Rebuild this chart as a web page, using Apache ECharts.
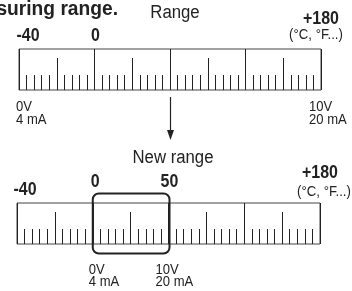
<!DOCTYPE html>
<html>
<head>
<meta charset="utf-8">
<title>Measuring range</title>
<script src="https://cdn.jsdelivr.net/npm/echarts@6/dist/echarts.min.js"></script>
<style>
  html, body { margin: 0; padding: 0; background: #fff; }
  #main { width: 352px; height: 291px; }
</style>
</head>
<body>
<div id="main"></div>
<script>
// ruler is split into 40 small divisions
var rulerMin = 0, rulerMax = 40;
var majorStep = 10, midStep = 5, minorSplit = 5;

// scale labels (position on ruler -> printed value)
var rangePos = [0, 10, 40];
var rangeText = ['-40', '0', '+180'];
var newRangePos = [0, 10, 20, 40];
var newRangeText = ['-40', '0', '50', '+180'];
var unitText = '(°C, °F...)';

// signal labels
var signalText = [['0V', '4 mA'], ['10V', '20 mA']];
var rangeSignalPos = [0, 40];
var newSignalPos = [10, 20];
var windowPos = [10, 20];
var arrowPos = 20;

var sans = "'Liberation Sans', sans-serif";
var ink = '#222';

function rulerAxes(g) {
    return [{
        type: 'value', gridIndex: g, min: rulerMin, max: rulerMax, interval: majorStep,
        axisLine: {show: false}, axisTick: {show: false}, axisLabel: {show: false},
        splitLine: {show: true, lineStyle: {color: ink, width: 1}}
    }, {
        type: 'value', gridIndex: g, min: rulerMin, max: rulerMax, interval: midStep,
        position: 'bottom',
        axisLine: {show: false}, axisLabel: {show: false}, splitLine: {show: false},
        axisTick: {show: true, inside: true, length: 32, lineStyle: {color: ink, width: 1}},
        minorTick: {show: true, splitNumber: minorSplit, length: 15, lineStyle: {color: ink, width: 1}}
    }];
}

var chart = echarts.init(document.getElementById('main'));
chart.setOption({
    animation: false,
    grid: [
        {left: 19, top: 49, width: 302, height: 41, show: true, borderColor: '#444', borderWidth: 1},
        {left: 17, top: 203, width: 303, height: 41, show: true, borderColor: '#444', borderWidth: 1}
    ],
    xAxis: rulerAxes(0).concat(rulerAxes(1)),
    yAxis: [
        {type: 'value', gridIndex: 0, min: 0, max: 1, show: false},
        {type: 'value', gridIndex: 1, min: 0, max: 1, show: false}
    ],
    series: []
});

function px(axis, v) { return chart.convertToPixel({xAxisIndex: axis}, v); }

var g = [];
// sx squeezes the glyphs horizontally to mimic the condensed face of the original
function txt(text, x, y, size, weight, align, sx) {
    g.push({type: 'text', x: x, y: y, scaleX: sx || 1,
        style: {text: text, x: 0, y: 0,
            fontSize: size, fontWeight: weight, fontFamily: sans, fill: ink,
            align: align || 'center', verticalAlign: 'middle'}});
}

// headings
txt('Measuring range.', 118, 9, 20, 'bold', 'right', 0.96);
txt('Range', 175, 13.5, 18, 'normal', 'center', 0.93);
txt('New range', 173, 158.5, 18, 'normal', 'center', 0.93);

// first ruler labels
var rangeY = [36, 36, 19];
var rangeDx = [9, 1, 0];
rangePos.forEach(function (v, i) {
    txt(rangeText[i], px(0, v) + rangeDx[i], rangeY[i], 19, 'bold', 'center', 0.84);
});
txt(unitText, px(0, rulerMax) - 5, 35, 15, 'normal', 'center', 0.88);

// second ruler labels
var newY = [190, 182, 182, 173];
var newDx = [8, 2.5, 1, 0];
newRangePos.forEach(function (v, i) {
    txt(newRangeText[i], px(2, v) + newDx[i], newY[i], 19, 'bold', 'center', 0.84);
});
txt(unitText, px(2, rulerMax) + 4, 192, 15, 'normal', 'center', 0.88);

// signal labels under rulers
var sigDx = [-3, -12];
rangeSignalPos.forEach(function (v, i) {
    txt(signalText[i][0], px(0, v) + sigDx[i], 107, 15, 'normal', 'left', 0.87);
    txt(signalText[i][1], px(0, v) + sigDx[i], 120, 15, 'normal', 'left', 0.87);
});
newSignalPos.forEach(function (v, i) {
    txt(signalText[i][0], px(2, v) + sigDx[i] - 1, 270, 15, 'normal', 'left', 0.87);
    txt(signalText[i][1], px(2, v) + sigDx[i] - 1, 282, 15, 'normal', 'left', 0.87);
});

// arrow between the two rulers
var ax = Math.round(px(0, arrowPos)) + 0.5;
g.push({type: 'line', shape: {x1: ax, y1: 97, x2: ax, y2: 134}, style: {stroke: ink, lineWidth: 1.2}});
g.push({type: 'polygon', shape: {points: [[ax - 3.5, 130], [ax + 3.5, 130], [ax, 140]]}, style: {fill: ink}});

// highlighted window on new ruler
var wx0 = px(2, windowPos[0]), wx1 = px(2, windowPos[1]);
g.push({type: 'rect', shape: {x: wx0, y: 193.5, width: wx1 - wx0 + 1, height: 60, r: 6},
    style: {fill: 'none', stroke: ink, lineWidth: 2}});

chart.setOption({graphic: g});
</script>
</body>
</html>
